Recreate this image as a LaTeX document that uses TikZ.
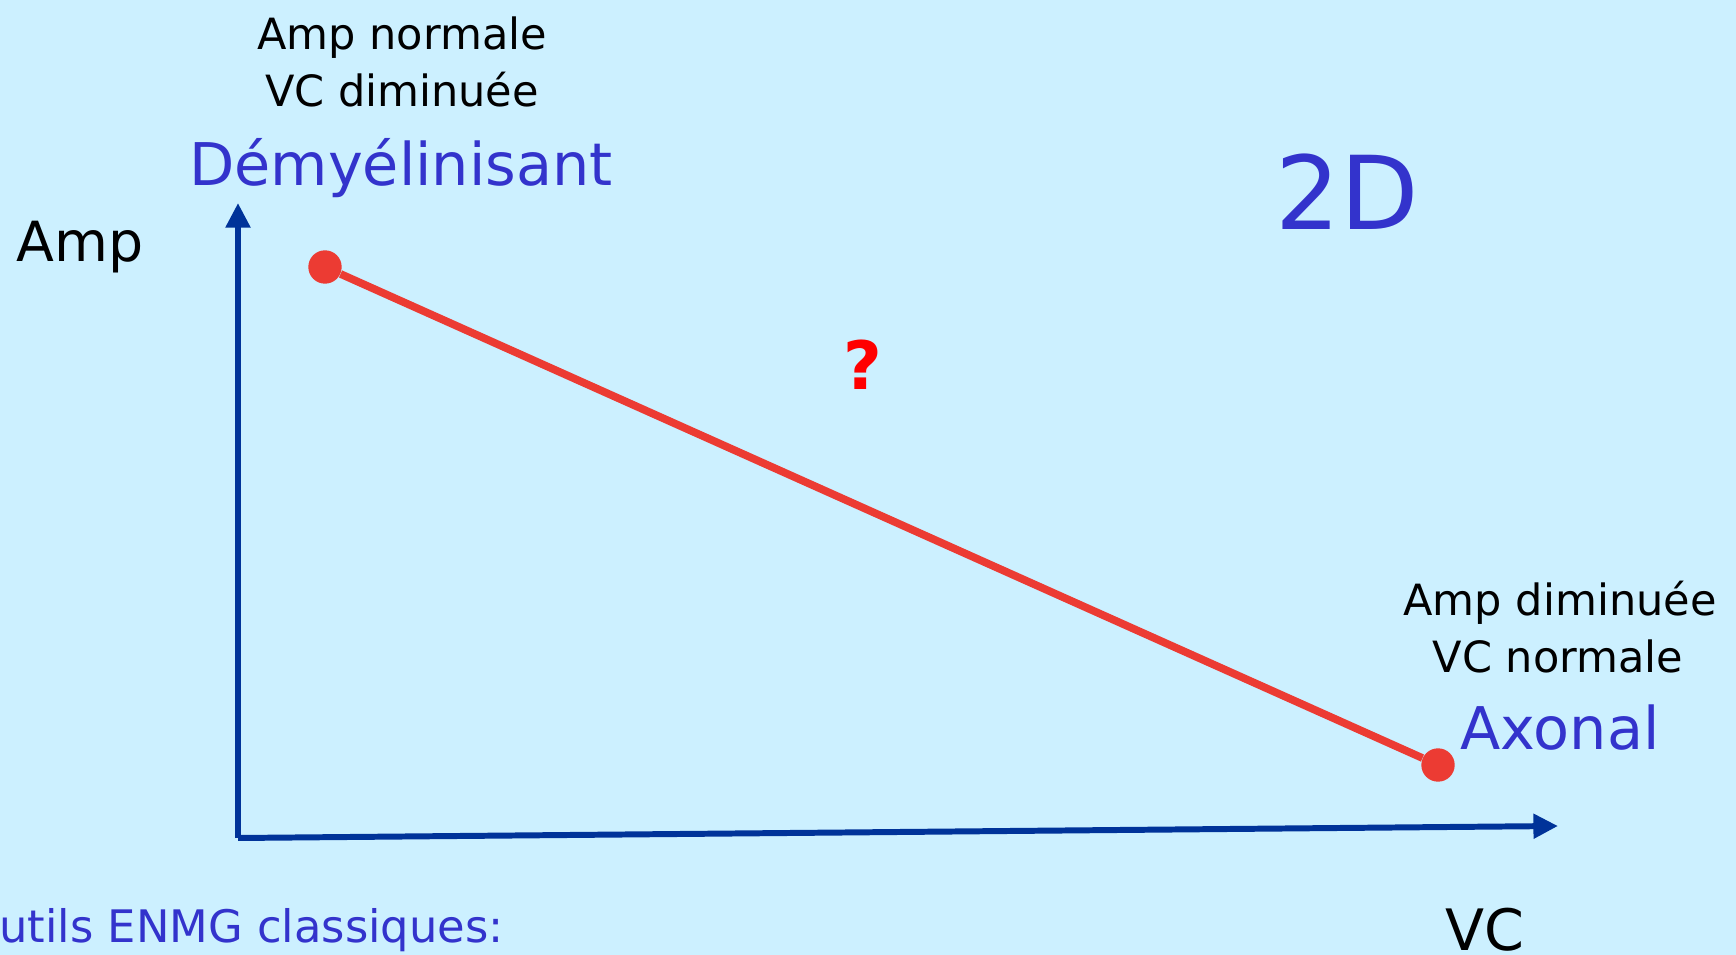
\documentclass[tikz,border=0pt]{standalone}
\usepackage{fontspec}
\setmainfont{DejaVu Sans}
\usetikzlibrary{arrows.meta}
\definecolor{bgcyan}{RGB}{204,240,255}
\definecolor{axisblue}{RGB}{0,51,153}
\definecolor{textblue}{RGB}{51,51,204}
\definecolor{linered}{RGB}{236,59,51}
\tikzset{
  axis/.style={line width=3.4pt, axisblue, -{Triangle[length=14pt, width=13.5pt]}},
  note/.style={anchor=base, black, font=\fontsize{24.5}{29}\selectfont},
  kind/.style={anchor=base, textblue, font=\fontsize{33.5}{40}\selectfont},
  dot/.style={circle, fill=linered, inner sep=0pt, minimum size=19pt},
}
\begin{document}
\begin{tikzpicture}[x=0.02cm, y=-0.02cm] % 1 unite = 1 pixel
    % --- fond et cadre ---
    \fill[bgcyan] (0, 0) rectangle (1736, 955);
    \useasboundingbox (0, 0) rectangle (1736, 955);

    % --- axes ---
    \coordinate (origin) at (238, 838);
    \coordinate (ytip) at (238, 203);
    \coordinate (xtip) at (1558, 826);
    % Y axis (Amp)
    \draw[axis] (origin) -- (ytip);
    % X axis (VC)
    \draw[axis] (origin) -- (xtip);
    \node[anchor=base, black, font=\fontsize{31.5}{38}\selectfont] (amp) at (80, 262) {Amp};
    \node[anchor=base, black, font=\fontsize{32.5}{38}\selectfont] (vc) at (1485, 950) {VC};

    % --- droite demyelinisant -> axonal ---
    \node[dot] (demy) at (325, 267) {};
    \node[dot] (axon) at (1438, 765) {};
    \draw[linered, line width=4.4pt] (demy) -- (axon);
    \node[anchor=base, red, font=\bfseries\fontsize{38}{44}\selectfont] (quest) at (863, 390) {?};

    % --- etiquettes ---
    \node[note] (ampnorm) at (402, 50) {Amp normale};
    \node[note] (vcdim) at (402, 107) {VC diminuée};
    \node[kind] (demylab) at (401, 186) {Démyélinisant};
    \node[note] (ampdim) at (1560, 615) {Amp diminuée};
    \node[note] (vcnorm) at (1558, 672) {VC normale};
    \node[kind] (axonlab) at (1560, 749) {Axonal};

    % --- titre 2D ---
    \node[anchor=base, textblue, font=\fontsize{58}{66}\selectfont] (twod) at (1347, 230) {2D};

    % --- bas de page (coupe a gauche) ---
    \node[anchor=base east, inner sep=0pt, textblue, font=\fontsize{25.5}{30}\selectfont] (outils) at (504, 942) {Outils ENMG classiques:};
\end{tikzpicture}
\end{document}
